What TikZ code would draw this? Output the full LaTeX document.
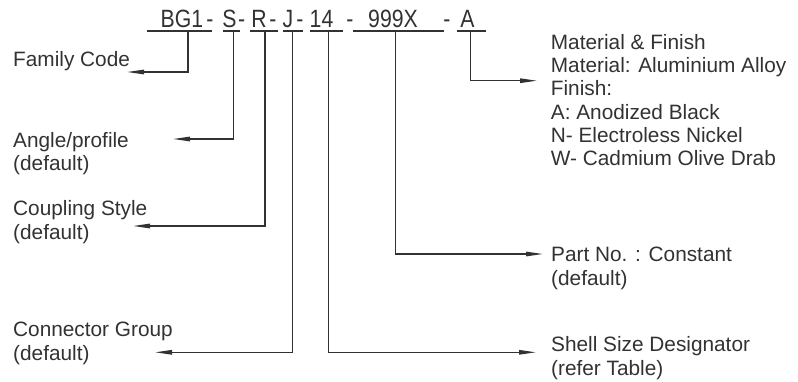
\documentclass[tikz,border=0pt]{standalone}
\usepackage{fontspec}
\setmainfont{Liberation Sans}
\usetikzlibrary{arrows.meta, math}
\definecolor{mygray}{RGB}{50,50,50}

\begin{document}
\begin{tikzpicture}[x=1pt,y=-1pt,
  lbl/.style={anchor=base west,align=left,inner sep=0pt,text=mygray,font=\fontsize{20.8}{23.3}\selectfont},
  code/.style={anchor=base,inner sep=0pt,text=mygray,font=\fontsize{25}{30}\selectfont},
  uline/.style={line width=1.3pt,color=mygray},
  lead/.style={line width=1.3pt,color=mygray,-{Triangle[length=17pt,width=4.5pt]}}]
\useasboundingbox (0,0) rectangle (798,381);
\tikzmath{
\yb=27.3;%code baseline
\yu=31;%underline level
\ls=23.3;%label line spacing
}

%part number code
\node[code] (cBG) at (182,\yb) {\scalebox{0.85}[1]{BG1}};
\node[code] (cS) at (229.5,\yb) {\scalebox{0.85}[1]{S}};
\node[code] (cR) at (259,\yb) {\scalebox{0.85}[1]{R}};
\node[code] (cJ) at (288,\yb) {\scalebox{0.85}[1]{J}};
\node[code] (cSz) at (321.5,\yb) {\scalebox{0.85}[1]{14}};
\node[code] (cPN) at (393,\yb) {\scalebox{0.85}[1]{999X}};
\node[code] (cA) at (467.5,\yb) {\scalebox{0.85}[1]{A}};
\foreach \x [count=\i] in {210,241.7,273,300,350,447}
  \node[code] (d\i) at (\x,\yb) {\scalebox{0.85}[1]{-}};
%underlines
\foreach \a/\b in {147/212,223/240,250/278,283/303,310/343,353/444,457/486}
  \draw[uline] (\a,\yu) -- (\b,\yu);

%labels (base = last line)
\node[lbl] (family) at (13,66.7) {Family Code};
\node[lbl] (angle) at (13,147.3+\ls) {Angle/profile\\(default)};
\node[lbl] (coupling) at (13,215.7+\ls) {Coupling Style\\(default)};
\node[lbl] (group) at (13,336.7+\ls) {Connector Group\\(default)};
\node[lbl] (finish) at (550.7,49.3+5*\ls) {Material \& Finish\\Material: Aluminium Alloy\\Finish:\\A: Anodized Black\\N- Electroless Nickel\\W- Cadmium Olive Drab};
\node[lbl] (partno) at (551,261.7+\ls) {Part No. : Constant\\(default)};
\node[lbl] (shell) at (551,351.7+\ls) {Shell Size Designator\\(refer Table)};

%leaders
\foreach \n/\x/\y/\e in {BG/188/72/127, S/233.3/139/173, R/265/226/133, J/292.3/352.3/155,
    Sz/328.3/352.3/536, PN/395.7/254/543, A/470.7/80.7/537}{
  \coordinate (t\n) at (\x,\yu);
  \coordinate (e\n) at (\e,\y);
  \draw[lead] (t\n) |- (e\n);
}

\end{tikzpicture}
\end{document}
